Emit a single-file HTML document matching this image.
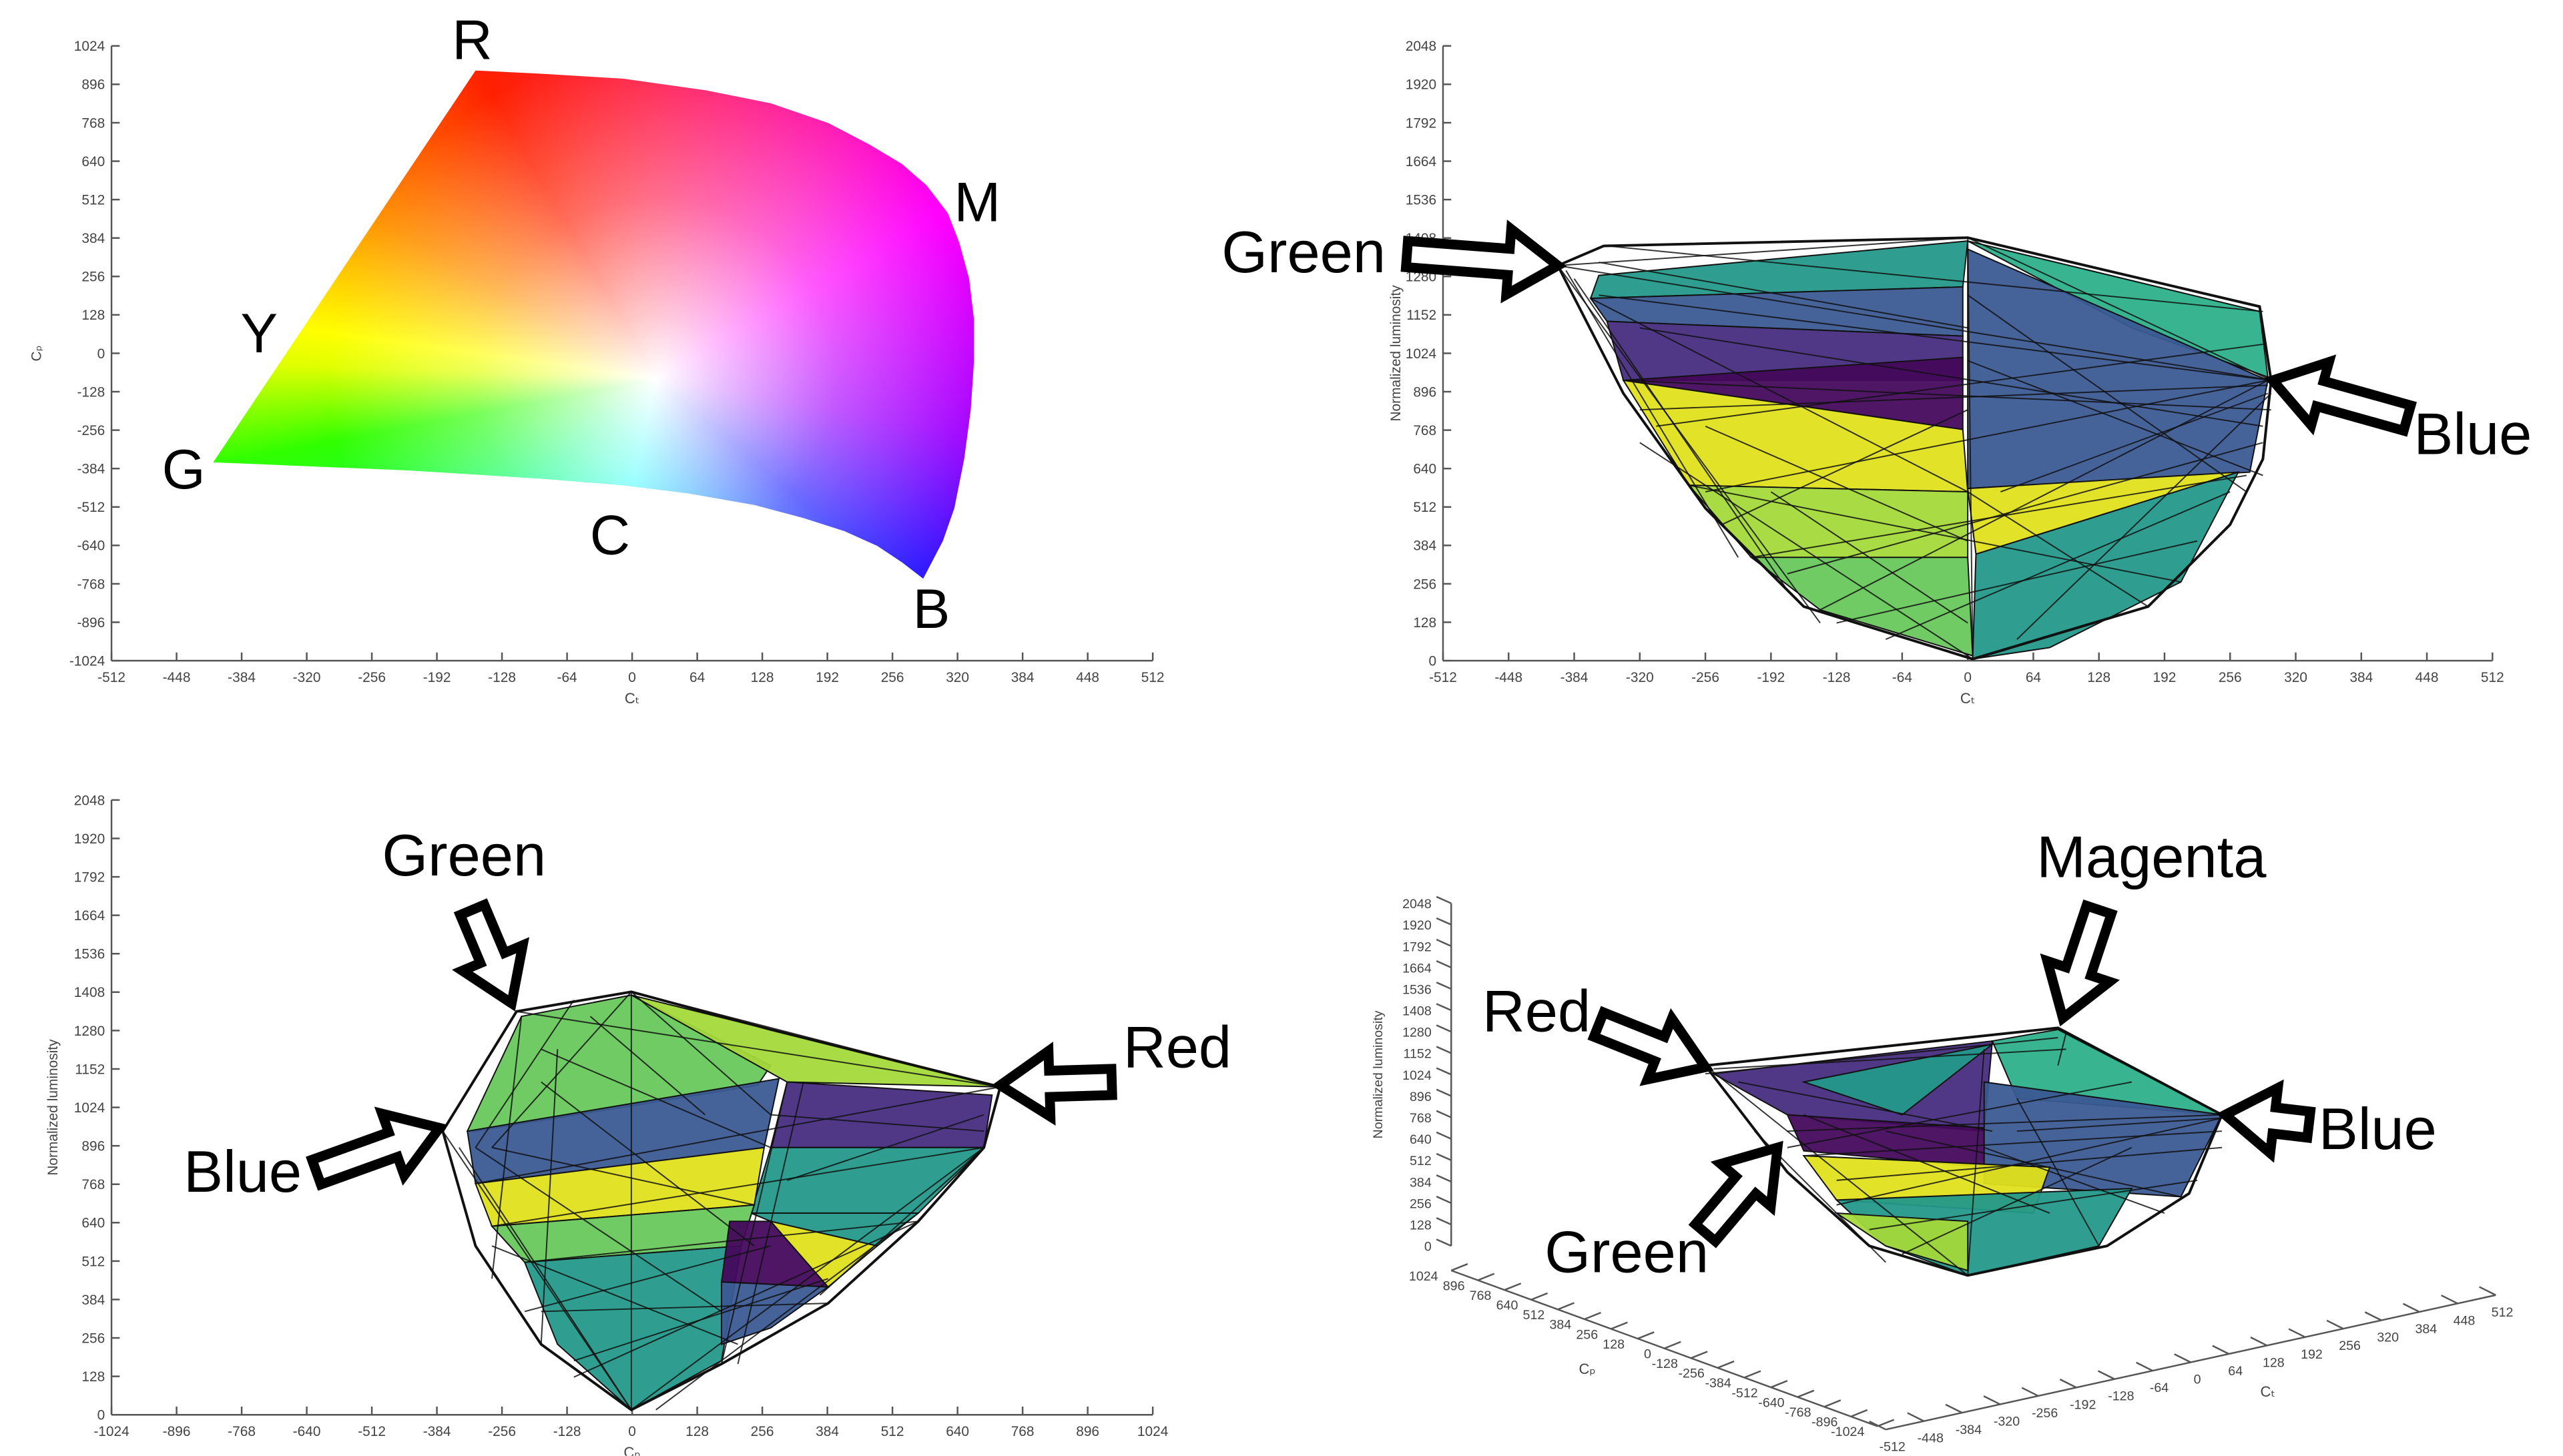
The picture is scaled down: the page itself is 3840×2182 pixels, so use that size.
<!DOCTYPE html>
<html><head><meta charset="utf-8">
<style>
html,body{margin:0;padding:0;background:#fff;}
#wrap{position:relative;width:1563px;height:888px;transform:scale(2.4568);transform-origin:0 0;overflow:hidden;}
#chroma{position:absolute;left:0;top:0;width:1563px;height:888px;
 clip-path:polygon(130px 282px,290px 43px,330px 45px,380px 48px,430px 55px,470px 63px,505px 75px,530px 88px,550px 100px,565px 113px,578px 130px,585px 148px,591px 170px,594px 195px,594px 220px,592px 250px,588px 280px,582px 310px,575px 330px,563px 353px,550px 343px,535px 333px,515px 324px,490px 316px,460px 308px,420px 301px,380px 296px,330px 292px,250px 287px);
 background:radial-gradient(circle at 400px 231px, rgba(255,255,255,1) 0px, rgba(255,255,255,0.75) 40px, rgba(255,255,255,0.35) 110px, rgba(255,255,255,0) 200px),
 conic-gradient(from 0deg at 400px 231px, #ff2050 0deg, #ff10c0 40deg, #ff00ff 60deg, #a000ff 100deg, #2020ff 130deg, #00a0ff 165deg, #00ffff 192deg, #00ff80 230deg, #30ff00 259deg, #e0ff00 272deg, #ffff00 278deg, #ff9000 300deg, #ff2000 330deg, #ff2050 360deg);}
svg{position:absolute;left:0;top:0;}
text{font-family:"Liberation Sans",sans-serif;}
.big{font-family:"Liberation Sans Narrow","Liberation Sans",sans-serif;}
</style></head>
<body>
<div id="wrap">
<div id="chroma"></div>
<svg id="s" width="1563" height="888" viewBox="0 0 1563 888"></svg>
</div>
<script>
const NS='http://www.w3.org/2000/svg';
const svg=document.getElementById('s');
const yTicks2048=[0,128,256,384,512,640,768,896,1024,1152,1280,1408,1536,1664,1792,1920,2048];
const ticks512=[-512,-448,-384,-320,-256,-192,-128,-64,0,64,128,192,256,320,384,448,512];
const ticks1024=[-1024,-896,-768,-640,-512,-384,-256,-128,0,128,256,384,512,640,768,896,1024];
const C={teal:'#24998a',blue:'#3b5a93',purple:'#482d80',dpurple:'#440a5c',yellow:'#e0e21c',yg:'#a3d93a',green:'#68c85c',gteal:'#2db08a'};
function el(tag,attrs,name,parent){const e=document.createElementNS(NS,tag);for(const k in attrs)e.setAttribute(k,attrs[k]);
 
 
 (parent||svg).appendChild(e);return e;}
function txt(x,y,s,size,name,anchor,extra){const t=el('text',Object.assign({x:x,y:y,'font-size':size,fill:'#444','text-anchor':anchor||'middle'},extra||{}),name);t.textContent=s;return t;}
function axes2d(x0,x1,y0,y1,xt,yt,xlab,ylab,pfx,yoff){
 const sx=v=>x0+(v-xt[0])/(xt[xt.length-1]-xt[0])*(x1-x0);
 const sy=v=>y0-(v-yt[0])/(yt[yt.length-1]-yt[0])*(y0-y1);
 el('line',{x1:x0,y1:y0,x2:x1,y2:y0,stroke:'#555','stroke-width':1},pfx+'-x-axis');
 el('line',{x1:x0,y1:y0,x2:x0,y2:y1,stroke:'#555','stroke-width':1},pfx+'-y-axis');
 xt.forEach(v=>{el('line',{x1:sx(v),y1:y0,x2:sx(v),y2:y0-5,stroke:'#555'},pfx+'-x-tick');txt(sx(v),y0+13,String(v),8.5,pfx+'-x-tick-label');});
 yt.forEach(v=>{el('line',{x1:x0,y1:sy(v),x2:x0+5,y2:sy(v),stroke:'#555'},pfx+'-y-tick');txt(x0-4,sy(v)+3,String(v),8.5,pfx+'-y-tick-label','end');});
 txt((x0+x1)/2,y0+26,xlab,9,pfx+'-x-axis-title');
 txt(0,0,ylab,8.5,pfx+'-y-axis-title','middle',{transform:`translate(${x0-yoff},${(y0+y1)/2}) rotate(-90)`});
}
function poly(pts,fill,name){return el('polygon',{points:pts.map(p=>p.join(',')).join(' '),fill:fill,'fill-opacity':0.95,stroke:'#111','stroke-width':0.8},name);}
function hull(pts,name){el('polygon',{points:pts.map(p=>p.join(',')).join(' '),fill:'none',stroke:'#111','stroke-width':1.6},name);}
function lines(pairs,name){pairs.forEach(p=>el('line',{x1:p[0],y1:p[1],x2:p[2],y2:p[3],stroke:'#111','stroke-width':0.8,'stroke-opacity':0.85},name));}
function arrow(tx,ty,hx,hy,name){
 const dx=hx-tx,dy=hy-ty,L=Math.hypot(dx,dy),ux=dx/L,uy=dy/L,px=-uy,py=ux;
 const hl=30,sw=8,hw=20;
 const P=(a,b)=>[tx+ux*a+px*b,ty+uy*a+py*b];
 const pts=[P(0,-sw),P(L-hl,-sw),P(L-hl,-hw),P(L,0),P(L-hl,hw),P(L-hl,sw),P(0,sw)];
 el('polygon',{points:pts.map(p=>p.join(',')).join(' '),fill:'#fff',stroke:'#000','stroke-width':6,'stroke-linejoin':'miter'},name);
}
function big(x,y,s,name,size){const t=el('text',{x:x,y:y,'font-size':size||36,fill:'#000','text-anchor':'middle','class':'big'},name);t.textContent=s;}

/* Panel 1 */
axes2d(68,703,403,28,ticks512,ticks1024,'C\u209c','C\u209a','gamut',43);
big(288,36,'R','label-red',34);big(596,135,'M','label-magenta',34);big(158,215,'Y','label-yellow',34);
big(112,298,'G','label-green',34);big(372,338,'C','label-cyan',34);big(568,383,'B','label-blue',34);

/* Panel 2 */
axes2d(880,1520,403,28,ticks512,yTicks2048,'C\u209c','Normalized luminosity','front',26);
poly([[975,168],[1200,147],[1197,175],[970,182]],C.teal,'facet');
poly([[970,182],[1197,175],[1197,205],[980,196]],C.blue,'facet');
poly([[980,196],[1197,205],[1197,232],[990,232]],C.purple,'facet');
poly([[990,232],[1197,218],[1197,262]],C.dpurple,'facet');
poly([[990,232],[1197,262],[1200,300],[1030,296]],C.yellow,'facet');
poly([[1030,296],[1200,300],[1200,340],[1068,340]],C.yg,'facet');
poly([[1068,340],[1200,340],[1203,400],[1110,372]],C.green,'facet');
poly([[1200,147],[1378,190],[1383,230],[1300,200]],C.gteal,'facet');
poly([[1200,152],[1383,232],[1372,288],[1200,298]],C.blue,'facet');
poly([[1200,298],[1365,288],[1205,338]],C.yellow,'facet');
poly([[1205,338],[1365,288],[1330,355],[1250,395],[1203,402]],C.teal,'facet');
hull([[950,162],[978,150],[1200,145],[1378,187],[1385,232],[1380,280],[1360,320],[1310,370],[1203,402],[1100,370],[1040,310],[990,240]],'front-hull');
lines([[950,162,1200,145],[950,162,1385,232],[975,180,1385,232],[990,232,1385,250],[1000,250,1383,235],[1040,300,1383,232],[1200,145,1385,232],[1200,145,1203,402],[970,182,1200,300],[1030,296,1330,355],[1068,340,1370,290],[1110,372,1383,232],[1200,300,1310,370],[950,162,1110,380],[1000,270,1203,402],[1200,180,1370,300],[1230,390,1385,240],
[960,170,1090,360],[955,165,1060,340],[980,150,1380,190],[975,160,1200,200],[1000,200,1380,260],[1010,260,1380,210],[1050,320,1200,250],[1090,350,1380,270],[1120,380,1340,330],[1150,390,1360,300],[1200,220,1380,290],[1220,300,1383,240],[1040,260,1200,330],[1080,300,1200,380]],'front-edge');

/* Panel 3 */
axes2d(68,703,863,488,ticks1024,yTicks2048,'C\u209a','Normalized luminosity','side',33);
poly([[285,690],[318,620],[385,607],[470,650],[462,662],[290,690]],C.green,'facet');
poly([[385,607],[610,663],[480,660]],C.yg,'facet');
poly([[480,660],[605,668],[600,700],[470,700]],C.purple,'facet');
poly([[285,690],[475,658],[466,700],[290,722]],C.blue,'facet');
poly([[470,700],[600,700],[560,740],[458,740]],C.teal,'facet');
poly([[290,722],[466,700],[460,735],[300,748]],C.yellow,'facet');
poly([[300,748],[460,735],[452,760],[320,770]],C.green,'facet');
poly([[320,770],[452,760],[440,830],[385,860],[340,820]],C.teal,'facet');
poly([[445,745],[470,745],[505,785],[440,782]],C.dpurple,'facet');
poly([[470,745],[535,760],[505,785]],C.yellow,'facet');
poly([[440,782],[505,785],[470,810],[440,820]],C.blue,'facet');
poly([[458,740],[560,740],[535,760],[470,745]],C.teal,'facet');
hull([[270,690],[315,617],[385,605],[470,628],[610,663],[600,700],[560,745],[505,795],[440,832],[385,860],[330,820],[290,760]],'side-hull');
lines([[270,690,315,617],[315,617,610,663],[385,605,610,663],[385,605,385,860],[270,690,385,860],[290,722,610,663],[300,748,600,700],[320,770,560,745],[480,660,440,832],[490,660,450,832],[385,605,300,700],[340,640,330,820],[385,860,600,700],[400,860,560,740],[300,700,460,735],[330,800,505,795],[350,830,505,780],
[318,620,300,780],[350,610,290,700],[385,605,470,680],[330,640,470,700],[290,700,440,800],[300,760,450,820],[320,800,470,760],[350,840,560,745],[280,700,385,860],[470,680,600,690],[480,720,600,680],[500,790,600,700],[330,660,460,760],[360,620,430,680]],'side-edge');

/* Panel 4 (3D) */
const zx=885,z0=760,z1=551;
const sz=v=>z0-(v/2048)*(z0-z1);
el('line',{x1:zx,y1:z0,x2:zx,y2:z1,stroke:'#555'},'iso-z-axis');
yTicks2048.forEach(v=>{el('line',{x1:zx,y1:sz(v),x2:zx-9,y2:sz(v)-4,stroke:'#555'},'iso-z-tick');txt(zx-12,sz(v)+3,String(v),8,'iso-z-tick-label','end');});
txt(0,0,'Normalized luminosity',8,'iso-z-axis-title','middle',{transform:`translate(843,${(z0+z1)/2}) rotate(-90)`});
const cpA=[885,775],cpB=[1145,870];
const cpPos=v=>{const t=(1024-v)/2048;return [cpA[0]+t*(cpB[0]-cpA[0]),cpA[1]+t*(cpB[1]-cpA[1])];};
el('line',{x1:cpA[0],y1:cpA[1],x2:cpB[0],y2:cpB[1],stroke:'#555'},'iso-cp-axis');
ticks1024.slice().reverse().forEach(v=>{const p=cpPos(v);el('line',{x1:p[0],y1:p[1],x2:p[0]+10,y2:p[1]-4,stroke:'#555'},'iso-cp-tick');txt(p[0]-8,p[1]+6,String(v),8,'iso-cp-tick-label','end');});
txt(968,838,'C\u209a',9,'iso-cp-axis-title');
const ctA=[1150,872],ctB=[1522,790];
const ctPos=v=>{const t=(v+512)/1024;return [ctA[0]+t*(ctB[0]-ctA[0]),ctA[1]+t*(ctB[1]-ctA[1])];};
el('line',{x1:ctA[0],y1:ctA[1],x2:ctB[0],y2:ctB[1],stroke:'#555'},'iso-ct-axis');
ticks512.forEach(v=>{const p=ctPos(v);el('line',{x1:p[0],y1:p[1],x2:p[0]-10,y2:p[1]-5,stroke:'#555'},'iso-ct-tick');txt(p[0]+4,p[1]+13,String(v),8,'iso-ct-tick-label','middle');});
txt(1383,852,'C\u209c',9,'iso-ct-axis-title');
poly([[1045,655],[1215,635],[1210,690],[1090,680]],C.purple,'facet');
poly([[1100,660],[1215,637],[1160,680]],C.teal,'facet');
poly([[1215,635],[1255,628],[1355,680],[1230,670]],C.gteal,'facet');
poly([[1090,680],[1210,688],[1210,712],[1100,702]],C.dpurple,'facet');
poly([[1210,660],[1355,680],[1330,730],[1210,722]],C.blue,'facet');
poly([[1100,705],[1250,712],[1240,740],[1120,732]],C.yellow,'facet');
poly([[1120,732],[1300,725],[1280,760],[1200,778],[1150,760]],C.teal,'facet');
poly([[1120,740],[1200,745],[1200,775],[1150,760]],C.yg,'facet');
hull([[1040,650],[1255,627],[1355,680],[1335,728],[1285,760],[1200,778],[1140,760],[1090,715]],'iso-hull');
lines([[1040,650,1255,627],[1040,655,1255,633],[1255,627,1355,680],[1210,640,1200,778],[1090,690,1355,680],[1100,705,1355,690],[1120,735,1355,682],[1040,650,1200,778],[1150,690,1330,730],[1230,670,1280,760],[1260,630,1255,650],
[1045,652,1260,640],[1060,660,1215,690],[1090,700,1300,660],[1120,720,1355,700],[1140,750,1340,720],[1160,765,1300,700],[1230,690,1355,682],[1100,680,1250,740],[1210,700,1320,740],[1070,690,1150,770]],'iso-edge');

/* arrows + labels */
arrow(858,155,950,162,'arrow-green-front');big(795,166,'Green','label-green-front');
arrow(1468,255,1386,232,'arrow-blue-front');big(1508,277,'Blue','label-blue-front');
arrow(288,555,312,612,'arrow-green-side');big(283,534,'Green','label-green-side');
arrow(678,660,610,662,'arrow-red-side');big(718,651,'Red','label-red-side');
arrow(193,715,268,688,'arrow-blue-side');big(148,727,'Blue','label-blue-side');
arrow(1280,555,1258,621,'arrow-magenta-iso');big(1312,535,'Magenta','label-magenta-iso');
arrow(975,625,1040,651,'arrow-red-iso');big(937,629,'Red','label-red-iso');
arrow(1408,686,1357,680,'arrow-blue-iso');big(1450,701,'Blue','label-blue-iso');
arrow(1040,752,1084,700,'arrow-green-iso');big(992,776,'Green','label-green-iso');
</script>
</body></html>
